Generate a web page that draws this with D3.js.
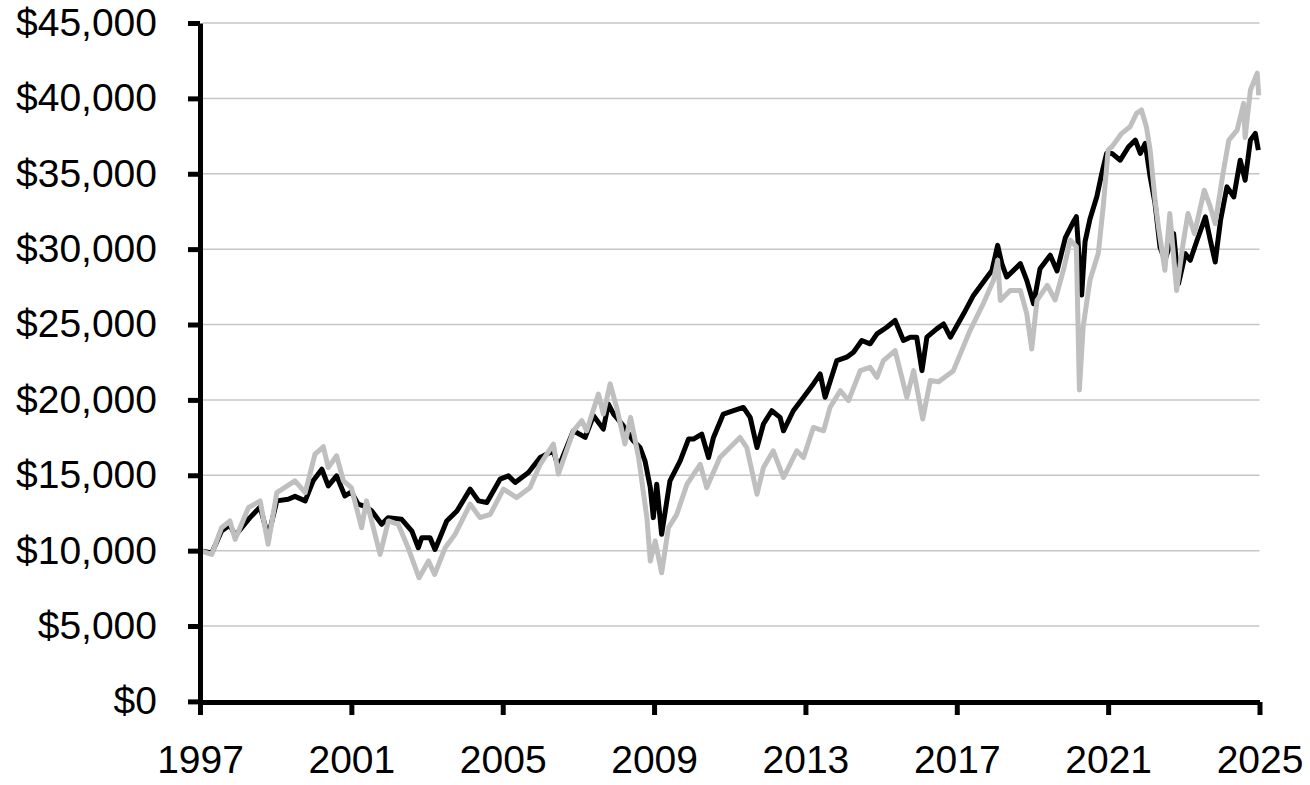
<!DOCTYPE html>
<meta charset="utf-8">
<style>
  body { margin: 0; background: #fff; }
  text { font-family: "Liberation Sans", Arial, sans-serif; }
</style>

<!-- Load d3.js -->
<script src="https://d3js.org/d3.v7.min.js"></script>

<div id="my_dataviz"></div>
<script>

    // growth of $10,000 -- black series (dates as decimal years)
    var blackYears = [1997.00, 1997.31, 1997.57, 1997.79, 1997.93, 1998.32, 1998.59, 1998.80, 1999.03, 1999.33,
        1999.51, 1999.78, 1999.99, 2000.22, 2000.39, 2000.61, 2000.83, 2001.00, 2001.18, 2001.40,
        2001.54, 2001.80, 2001.97, 2002.33, 2002.60, 2002.77, 2002.86, 2003.08, 2003.21, 2003.34,
        2003.52, 2003.79, 2004.14, 2004.36, 2004.58, 2004.93, 2005.15, 2005.33, 2005.68, 2005.99,
        2006.34, 2006.47, 2006.87, 2007.18, 2007.40, 2007.66, 2007.79, 2007.93, 2008.15, 2008.45,
        2008.63, 2008.76, 2008.90, 2008.98, 2009.07, 2009.20, 2009.42, 2009.69, 2009.91, 2010.04,
        2010.26, 2010.44, 2010.57, 2010.83, 2011.10, 2011.36, 2011.54, 2011.72, 2011.89, 2012.11,
        2012.33, 2012.42, 2012.68, 2012.95, 2013.21, 2013.39, 2013.52, 2013.83, 2014.09, 2014.27,
        2014.49, 2014.71, 2014.89, 2015.15, 2015.37, 2015.59, 2015.77, 2015.94, 2016.08, 2016.21,
        2016.47, 2016.65, 2016.83, 2017.18, 2017.44, 2017.80, 2017.93, 2018.08, 2018.19, 2018.32,
        2018.50, 2018.68, 2018.85, 2019.03, 2019.20, 2019.47, 2019.65, 2019.87, 2020.09, 2020.16,
        2020.30, 2020.39, 2020.52, 2020.70, 2020.83, 2020.96, 2021.10, 2021.32, 2021.54, 2021.72,
        2021.85, 2021.98, 2022.11, 2022.24, 2022.37, 2022.50, 2022.73, 2022.86, 2023.04, 2023.17,
        2023.35, 2023.57, 2023.70, 2023.83, 2023.97, 2024.14, 2024.32, 2024.49, 2024.62, 2024.76,
        2024.89, 2024.97];
    var blackValues = [10000, 9850, 11300, 11700, 11000, 12190, 12900, 10900, 13300, 13410,
        13600, 13300, 14630, 15400, 14300, 14960, 13630, 13900, 13080, 12900,
        12630, 11750, 12190, 12080, 11300, 10190, 10860, 10860, 10080, 10860,
        11970, 12630, 14080, 13300, 13190, 14740, 14960, 14520, 15180, 16180,
        16620, 15510, 17950, 17510, 18950, 18060, 19730, 19060, 18400, 17290,
        16840, 15960, 14180, 12190, 14410, 11080, 14630, 15960, 17400, 17400,
        17730, 16180, 17510, 19060, 19280, 19500, 18840, 16840, 18400, 19280,
        18840, 17950, 19280, 20170, 21060, 21720, 20170, 22610, 22830, 23160,
        23940, 23720, 24380, 24820, 25270, 23940, 24160, 24160, 21940, 24160,
        24710, 25040, 24160, 25710, 26930, 28150, 28590, 30250, 29040, 28150,
        28590, 29040, 27930, 26380, 28700, 29600, 28550, 30770, 31850, 32150,
        26950, 30500, 32000, 33480, 35000, 36360, 36350, 35900, 36790, 37230,
        36350, 37010, 34790, 33020, 30140, 29260, 31030, 27700, 29700, 29260,
        30590, 32140, 30590, 29150, 31910, 34130, 33460, 35900, 34570, 37230,
        37680, 36570];

    // growth of $10,000 -- gray series
    var grayYears = [1997.00, 1997.31, 1997.57, 1997.79, 1997.93, 1998.28, 1998.59, 1998.80, 1999.03, 1999.51,
        1999.78, 2000.04, 2000.26, 2000.39, 2000.61, 2000.79, 2001.00, 2001.27, 2001.40, 2001.76,
        2001.98, 2002.24, 2002.50, 2002.79, 2003.04, 2003.20, 2003.48, 2003.74, 2004.14, 2004.40,
        2004.67, 2005.02, 2005.37, 2005.72, 2005.99, 2006.34, 2006.47, 2006.87, 2007.09, 2007.22,
        2007.53, 2007.66, 2007.84, 2008.01, 2008.23, 2008.38, 2008.59, 2008.81, 2008.90, 2009.03,
        2009.20, 2009.38, 2009.60, 2009.87, 2010.22, 2010.39, 2010.74, 2011.27, 2011.45, 2011.72,
        2011.89, 2012.15, 2012.42, 2012.77, 2012.95, 2013.21, 2013.48, 2013.65, 2013.92, 2014.14,
        2014.45, 2014.71, 2014.89, 2015.06, 2015.37, 2015.68, 2015.86, 2016.10, 2016.30, 2016.52,
        2016.91, 2017.35, 2017.70, 2017.97, 2018.08, 2018.15, 2018.41, 2018.68, 2018.85, 2018.98,
        2019.12, 2019.39, 2019.60, 2019.82, 2020.00, 2020.16, 2020.24, 2020.34, 2020.52, 2020.74,
        2020.87, 2021.00, 2021.10, 2021.36, 2021.58, 2021.75, 2021.88, 2022.01, 2022.11, 2022.24,
        2022.33, 2022.50, 2022.63, 2022.81, 2022.98, 2023.11, 2023.28, 2023.54, 2023.70, 2023.83,
        2024.02, 2024.19, 2024.41, 2024.58, 2024.62, 2024.76, 2024.94, 2024.98];
    var grayValues = [10000, 9750, 11520, 11970, 10750, 12850, 13300, 10420, 13850, 14630,
        13850, 16400, 16890, 15510, 16290, 14630, 14180, 11520, 13300, 9750,
        11970, 11750, 10190, 8200, 9310, 8420, 10190, 11080, 13080, 12190,
        12410, 14080, 13520, 14180, 15730, 17070, 15070, 17950, 18620, 17950,
        20390, 19060, 21060, 19500, 17070, 18840, 16180, 12190, 9310, 10640,
        8530, 11520, 12410, 14410, 15730, 14180, 16180, 17510, 16840, 13740,
        15510, 16620, 14850, 16620, 16180, 18170, 17950, 19500, 20610, 19950,
        21940, 22160, 21500, 22610, 23270, 20170, 21940, 18730, 21280, 21200,
        21940, 24600, 26380, 27930, 29260, 26600, 27260, 27260, 25710, 23380,
        26600, 27600, 26630, 28620, 30600, 30160, 20660, 24860, 27950, 29730,
        32820, 36580, 36790, 37680, 38120, 39010, 39230, 38120, 36570, 33240,
        31470, 28590, 32360, 27260, 30360, 32360, 31030, 33910, 32800, 31690,
        34790, 37230, 37900, 39670, 37400, 40560, 41670, 40200];

    // axis ticks
    var yearTicks = [1997, 2001, 2005, 2009, 2013, 2017, 2021, 2025];
    var valueTicks = [0, 5000, 10000, 15000, 20000, 25000, 30000, 35000, 40000, 45000];

    var width = 1310, height = 785;

    var svg = d3.select("#my_dataviz")
        .append("svg")
        .attr("width", width)
        .attr("height", height);

    var x = d3.scaleLinear()
        .domain([1997, 2025])
        .range([200, 1259.5]);

    var y = d3.scaleLinear()
        .domain([0, 45000])
        .range([701.4, 23]);

    // gridlines
    svg.append("g")
        .selectAll("line")
        .data(valueTicks.slice(1))
        .enter()
        .append("line")
        .attr("x1", x(1997) + 3)
        .attr("x2", x(2025))
        .attr("y1", function (d) { return y(d) })
        .attr("y2", function (d) { return y(d) })
        .attr("stroke", "#c6c6c6")
        .attr("stroke-width", 1.5);

    function zip(xs, vs) {
        return xs.map(function (t, i) { return { t: t, v: vs[i] } });
    }

    var line = d3.line()
        .x(function (d) { return x(d.t) })
        .y(function (d) { return y(d.v) });

    // black series first, gray sits on top
    svg.append("path")
        .datum(zip(blackYears, blackValues))
        .attr("fill", "none")
        .attr("stroke", "#000")
        .attr("stroke-width", 5)
        .attr("stroke-linejoin", "round")
        .attr("d", line);

    svg.append("path")
        .datum(zip(grayYears, grayValues))
        .attr("fill", "none")
        .attr("stroke", "#bfbfbf")
        .attr("stroke-width", 5)
        .attr("stroke-linejoin", "round")
        .attr("d", line);

    // Y axis
    var yAxis = svg.append("g")
        .attr("transform", "translate(" + x(1997) + ",0)")
        .call(d3.axisLeft(y)
            .tickValues(valueTicks)
            .tickSize(12)
            .tickSizeOuter(0)
            .tickPadding(31)
            .tickFormat(function (d) { return "$" + d3.format(",")(d) }));

    // X axis
    var xAxis = svg.append("g")
        .attr("transform", "translate(0," + 702 + ")")
        .call(d3.axisBottom(x)
            .tickValues(yearTicks)
            .tickSize(13)
            .tickSizeOuter(0)
            .tickPadding(30)
            .tickFormat(d3.format("d")));

    [yAxis, xAxis].forEach(function (g) {
        g.select(".domain").attr("stroke", "#000").attr("stroke-width", 5);
        g.selectAll(".tick line").attr("stroke", "#000").attr("stroke-width", 5);
        g.selectAll(".tick text")
            .attr("fill", "#000")
            .style("font-size", "39px")
            .style("font-family", "'Liberation Sans', Arial, sans-serif");
    });

</script>
